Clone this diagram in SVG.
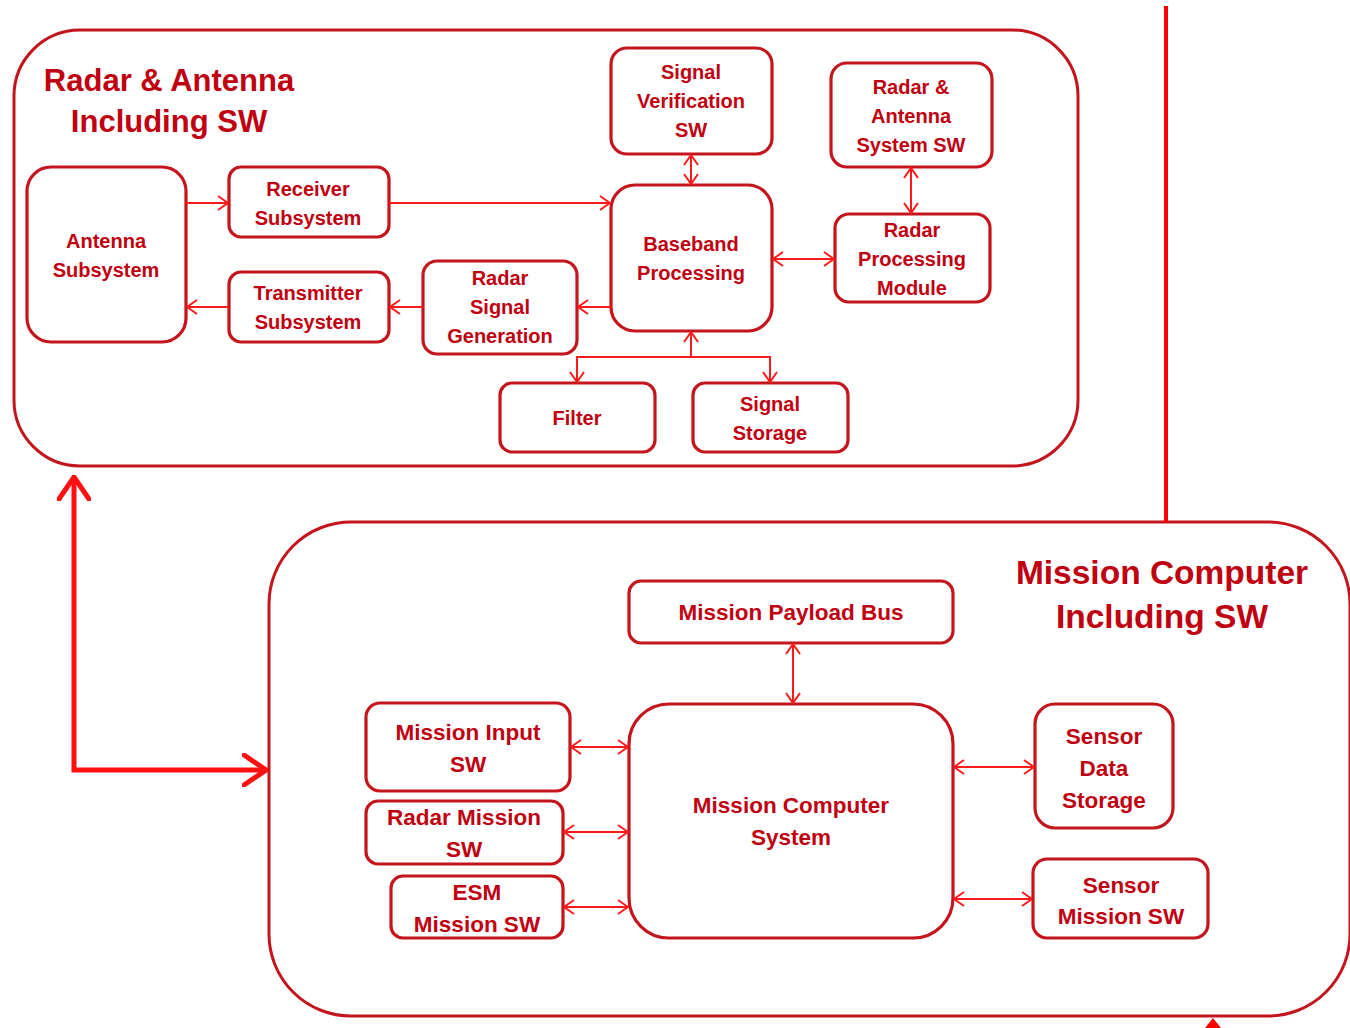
<svg xmlns="http://www.w3.org/2000/svg" width="1350" height="1028" viewBox="0 0 1350 1028">
<defs>
<style>
.box{fill:#fff;stroke:#c4141c;stroke-width:3.2}
.grp{fill:none;stroke:#c4141c;stroke-width:3}
.t{font-family:"Liberation Sans",Arial,sans-serif;font-weight:bold;fill:#c00010;text-anchor:middle}
.s{font-size:20px}
.m{font-size:22.5px}
.ti{font-size:31px}
.tb{font-size:33.5px}
.c{fill:none;stroke:#ff1a1a;stroke-width:2}
.big{fill:none;stroke:#ff1010;stroke-width:5}
</style>
<marker id="a" viewBox="0 0 12 16" refX="11" refY="8" markerWidth="12" markerHeight="16" markerUnits="userSpaceOnUse" orient="auto-start-reverse">
<path d="M1,1 L11,8 L1,15" fill="none" stroke="#ff1a1a" stroke-width="2"/>
</marker>
<marker id="b" viewBox="0 0 26 34" refX="24" refY="17" markerWidth="26" markerHeight="34" markerUnits="userSpaceOnUse" orient="auto-start-reverse">
<path d="M2,2 L24,17 L2,32" fill="none" stroke="#ff1010" stroke-width="5" stroke-linecap="round"/>
</marker>
</defs>
<rect width="1350" height="1028" fill="#fff"/>

<g id="radar-antenna-group">
<rect class="grp" x="14" y="30" width="1064" height="436" rx="66" ry="66"/>
<text class="t ti" x="169" y="91">Radar &amp; Antenna</text>
<text class="t ti" x="169" y="132">Including SW</text>
</g>

<g id="mission-computer-group">
<rect class="grp" x="269" y="522" width="1081" height="494" rx="82" ry="82"/>
<text class="t tb" x="1162" y="584">Mission Computer</text>
<text class="t tb" x="1162" y="628">Including SW</text>
</g>

<g id="antenna-subsystem"><rect class="box" x="27" y="167" width="159" height="175" rx="24"/>
<text class="t s" x="106" y="248">Antenna</text><text class="t s" x="106" y="277">Subsystem</text></g>
<g id="receiver-subsystem"><rect class="box" x="229" y="167" width="160" height="70" rx="12"/>
<text class="t s" x="308" y="196">Receiver</text><text class="t s" x="308" y="225">Subsystem</text></g>
<g id="transmitter-subsystem"><rect class="box" x="229" y="272" width="160" height="70" rx="12"/>
<text class="t s" x="308" y="300">Transmitter</text><text class="t s" x="308" y="329">Subsystem</text></g>
<g id="radar-signal-generation"><rect class="box" x="423" y="261" width="154" height="93" rx="14"/>
<text class="t s" x="500" y="285">Radar</text><text class="t s" x="500" y="314">Signal</text><text class="t s" x="500" y="343">Generation</text></g>
<g id="signal-verification-sw"><rect class="box" x="611" y="48" width="161" height="106" rx="16"/>
<text class="t s" x="691" y="79">Signal</text><text class="t s" x="691" y="108">Verification</text><text class="t s" x="691" y="137">SW</text></g>
<g id="baseband-processing"><rect class="box" x="611" y="185" width="161" height="146" rx="24"/>
<text class="t s" x="691" y="251">Baseband</text><text class="t s" x="691" y="280">Processing</text></g>
<g id="radar-antenna-system-sw"><rect class="box" x="831" y="63" width="161" height="104" rx="16"/>
<text class="t s" x="911" y="94">Radar &amp;</text><text class="t s" x="911" y="123">Antenna</text><text class="t s" x="911" y="152">System SW</text></g>
<g id="radar-processing-module"><rect class="box" x="835" y="214" width="155" height="88" rx="14"/>
<text class="t s" x="912" y="237">Radar</text><text class="t s" x="912" y="266">Processing</text><text class="t s" x="912" y="295">Module</text></g>
<g id="filter"><rect class="box" x="500" y="383" width="155" height="69" rx="12"/>
<text class="t s" x="577" y="425">Filter</text></g>
<g id="signal-storage"><rect class="box" x="693" y="383" width="155" height="69" rx="12"/>
<text class="t s" x="770" y="411">Signal</text><text class="t s" x="770" y="440">Storage</text></g>

<g id="mission-payload-bus"><rect class="box" x="629" y="581" width="324" height="62" rx="12"/>
<text class="t m" x="791" y="620">Mission Payload Bus</text></g>
<g id="mission-computer-system"><rect class="box" x="629" y="704" width="324" height="234" rx="40"/>
<text class="t m" x="791" y="813">Mission Computer</text><text class="t m" x="791" y="845">System</text></g>
<g id="mission-input-sw"><rect class="box" x="366" y="703" width="204" height="88" rx="14"/>
<text class="t m" x="468" y="740">Mission Input</text><text class="t m" x="468" y="772">SW</text></g>
<g id="radar-mission-sw"><rect class="box" x="366" y="801" width="197" height="63" rx="12"/>
<text class="t m" x="464" y="825">Radar Mission</text><text class="t m" x="464" y="857">SW</text></g>
<g id="esm-mission-sw"><rect class="box" x="391" y="876" width="172" height="62" rx="12"/>
<text class="t m" x="477" y="900">ESM</text><text class="t m" x="477" y="932">Mission SW</text></g>
<g id="sensor-data-storage"><rect class="box" x="1035" y="704" width="138" height="124" rx="20"/>
<text class="t m" x="1104" y="744">Sensor</text><text class="t m" x="1104" y="776">Data</text><text class="t m" x="1104" y="808">Storage</text></g>
<g id="sensor-mission-sw"><rect class="box" x="1033" y="859" width="175" height="79" rx="14"/>
<text class="t m" x="1121" y="893">Sensor</text><text class="t m" x="1121" y="924">Mission SW</text></g>

<g id="connectors">
<line class="c" x1="186" y1="203" x2="228" y2="203" marker-end="url(#a)"/>
<line class="c" x1="389" y1="203" x2="610" y2="203" marker-end="url(#a)"/>
<line class="c" x1="611" y1="307" x2="578" y2="307" marker-end="url(#a)"/>
<line class="c" x1="423" y1="307" x2="390" y2="307" marker-end="url(#a)"/>
<line class="c" x1="229" y1="307" x2="187" y2="307" marker-end="url(#a)"/>
<line class="c" x1="691" y1="155" x2="691" y2="184" marker-start="url(#a)" marker-end="url(#a)"/>
<line class="c" x1="773" y1="259" x2="834" y2="259" marker-start="url(#a)" marker-end="url(#a)"/>
<line class="c" x1="911" y1="168" x2="911" y2="213" marker-start="url(#a)" marker-end="url(#a)"/>
<line class="c" x1="691" y1="357" x2="691" y2="332" marker-end="url(#a)"/>
<polyline class="c" points="577,382 577,357 770,357 770,382" marker-start="url(#a)" marker-end="url(#a)"/>
<line class="c" x1="793" y1="644" x2="793" y2="703" marker-start="url(#a)" marker-end="url(#a)"/>
<line class="c" x1="571" y1="747" x2="628" y2="747" marker-start="url(#a)" marker-end="url(#a)"/>
<line class="c" x1="564" y1="832" x2="628" y2="832" marker-start="url(#a)" marker-end="url(#a)"/>
<line class="c" x1="564" y1="907" x2="628" y2="907" marker-start="url(#a)" marker-end="url(#a)"/>
<line class="c" x1="954" y1="767" x2="1034" y2="767" marker-start="url(#a)" marker-end="url(#a)"/>
<line class="c" x1="954" y1="899" x2="1032" y2="899" marker-start="url(#a)" marker-end="url(#a)"/>
<polyline class="big" points="74,477 74,770 266,770" marker-start="url(#b)" marker-end="url(#b)"/>
<line x1="1166" y1="6" x2="1166" y2="522" stroke="#ff0000" stroke-width="4"/>
<polygon points="1205,1028 1213,1018 1221,1028" fill="#ff0000"/>
</g>
</svg>
